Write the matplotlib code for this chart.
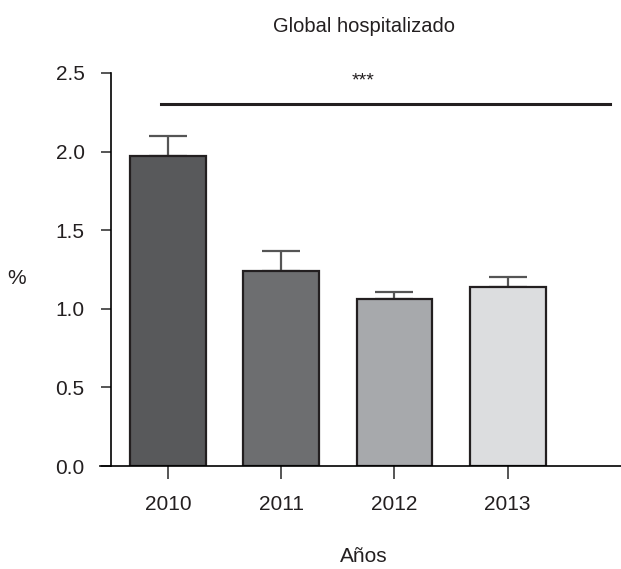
import matplotlib
matplotlib.use("Agg")
import matplotlib.pyplot as plt

years = ["2010", "2011", "2012", "2013"]
values = [1.97, 1.24, 1.06, 1.14]
errors = [0.13, 0.13, 0.05, 0.06]
colors = ["#58595b", "#6d6e70", "#a7a9ac", "#dcdddf"]
yticks = [0.0, 0.5, 1.0, 1.5, 2.0, 2.5]

plt.rcParams["font.family"] = ["Liberation Sans", "DejaVu Sans"]
text_color = "#231f20"

fig = plt.figure(figsize=(6.21, 5.69), dpi=100)
ax = fig.add_axes([100 / 621, 103 / 569, 521 / 621, 393 / 569])

x = list(range(len(years)))
ax.bar(x, values, width=0.67, color=colors, edgecolor="#231f20", linewidth=1.6, zorder=2)
ax.errorbar(x, values, yerr=[[0] * len(errors), errors], fmt="none",
            ecolor="#555555", elinewidth=1.6, capsize=14, capthick=1.6, zorder=1)

ax.set_xlim(-0.6, 4.0)
ax.set_ylim(0, 2.5)

for side in ("top", "right"):
    ax.spines[side].set_visible(False)
ax.spines["left"].set_position(("data", -0.5))
ax.spines["left"].set_bounds(0, 2.5)
ax.spines["left"].set_linewidth(1.2)
ax.spines["bottom"].set_linewidth(1.2)

ax.set_xticks(x)
ax.set_xticklabels(years)
ax.set_yticks(yticks)
ax.set_yticklabels([f"{v:.1f}" for v in yticks])
ax.tick_params(axis="x", length=9.4, width=1.4, color="#555555", pad=11.5,
               labelsize=15, labelcolor=text_color)
ax.tick_params(axis="y", length=7.2, width=1.4, color="#555555", pad=12,
               labelsize=15, labelcolor=text_color)

# significance bar across all years
ax.plot([-0.06, 3.9], [2.30, 2.30], color="#231f20", linewidth=2.2, clip_on=False)
ax.text(1.72, 2.42, "***", ha="center", va="baseline", fontsize=14, color=text_color)

fig.text(364 / 621, 1 - 27 / 569, "Global hospitalizado", ha="center", va="center",
         fontsize=14.5, color=text_color)
fig.text(17 / 621, 1 - 279 / 569, "%", ha="center", va="center", fontsize=15, color=text_color)
fig.text(364 / 621, 1 - 557 / 569, "Años", ha="center", va="center", fontsize=15, color=text_color)

fig.savefig("out.png", dpi=100)
